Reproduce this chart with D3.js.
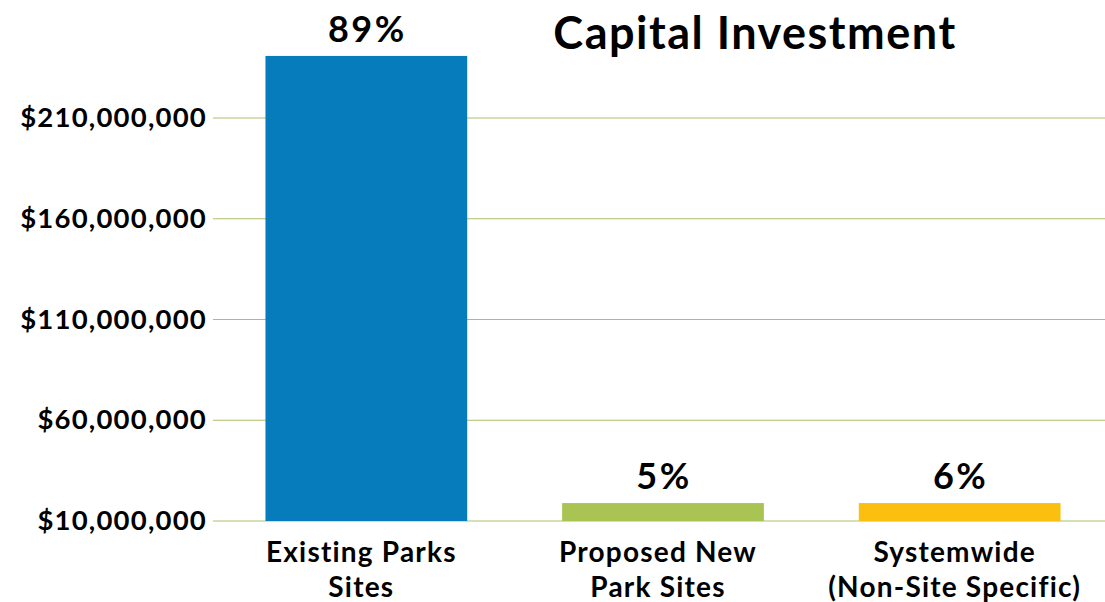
<!DOCTYPE html>
<html><head><meta charset="utf-8">
<script src="https://cdn.jsdelivr.net/npm/d3@7"></script>
<style>body{margin:0;background:#fff}svg{display:block}</style>
</head><body>
<svg id="c" width="1105" height="602"></svg>
<script>
const categories = [["Existing Parks","Sites"],["Proposed New","Park Sites"],["Systemwide","(Non-Site Specific)"]];
const values = [240800000, 18900000, 18900000];
const percents = ["89%","5%","6%"];
const colors = ["#077cbd","#a9c453","#fbbf10"];
const tickValues = [10000000, 60000000, 110000000, 160000000, 210000000];
const title = "Capital Investment";

const svg = d3.select("#c");
const font = "Lato, 'Open Sans', sans-serif";
const x = d3.scaleBand().domain(d3.range(categories.length)).range([218, 1108]).paddingInner(0.32).paddingOuter(0.16);
const y = d3.scaleLinear().domain([10000000, 210000000]).range([521, 118]);

// gridlines
svg.append("g").selectAll("line").data(tickValues).join("line")
  .attr("x1", 213).attr("x2", 1105)
  .attr("y1", d => y(d)).attr("y2", d => y(d))
  .attr("stroke", "#abc06a").attr("stroke-width", 1);

// tick labels
svg.append("g").selectAll("text").data(tickValues).join("text")
  .attr("x", 207).attr("y", d => y(d) + 9)
  .attr("text-anchor", "end")
  .attr("font-family", font).attr("font-weight", 700).attr("font-size", 27.5)
  .attr("letter-spacing", 1.2)
  .text(d => "$" + d3.format(",")(d));

// bars
svg.append("g").selectAll("rect").data(values).join("rect")
  .attr("x", (d,i) => x(i)).attr("width", x.bandwidth())
  .attr("y", d => y(d)).attr("height", d => y(10000000) - y(d))
  .attr("fill", (d,i) => colors[i]);

// percent labels
svg.append("g").selectAll("text").data(values).join("text")
  .attr("x", (d,i) => x(i) + x.bandwidth()/2 + 1).attr("y", d => y(d) - 14)
  .attr("text-anchor", "middle")
  .attr("font-family", font).attr("font-weight", 700).attr("font-size", 36)
  .attr("letter-spacing", 2.5)
  .text((d,i) => percents[i]);

// category labels
const cl = svg.append("g").selectAll("text").data(categories).join("text")
  .attr("text-anchor", "middle")
  .attr("font-family", font).attr("font-weight", 700).attr("font-size", 28)
  .attr("letter-spacing", 1.2);
cl.each(function(d,i){
  const t = d3.select(this);
  d.forEach((line,j) => {
    t.append("tspan").attr("x", x(i) + x.bandwidth()/2 - 5).attr("y", 562 + j*35).text(line);
  });
});

// title
svg.append("text").attr("x", 755).attr("y", 49).attr("text-anchor", "middle")
  .attr("font-family", font).attr("font-weight", 700).attr("font-size", 45)
  .attr("letter-spacing", 1.5)
  .text(title);
</script>
</body></html>
